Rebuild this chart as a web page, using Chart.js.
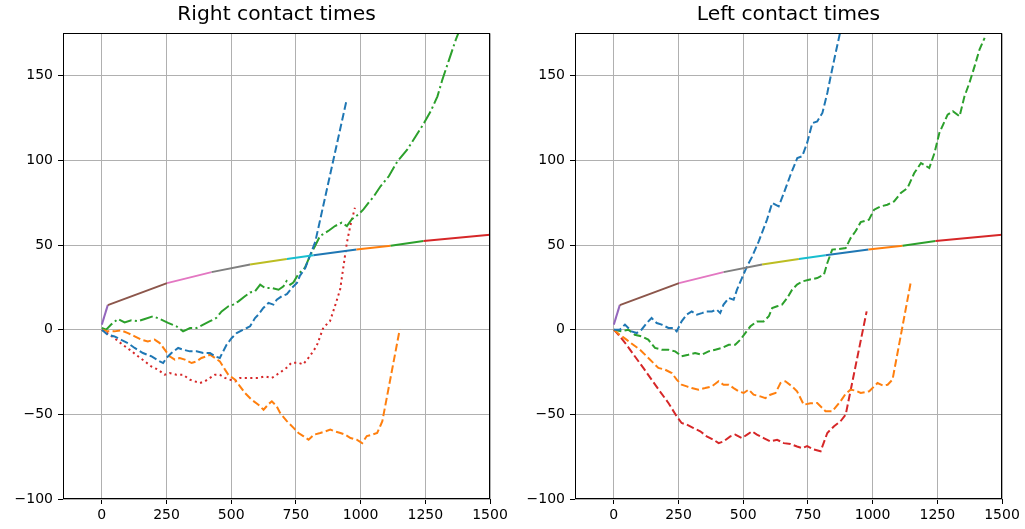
<!DOCTYPE html>
<html>
<head>
<meta charset="utf-8">
<script src="https://cdn.jsdelivr.net/npm/chart.js@4.4.1/dist/chart.umd.min.js"></script>
<style>
  body { margin: 0; background: #fff; }
  #wrap { position: relative; width: 1025px; height: 529px; overflow: hidden; background: #fff; }
  canvas { position: absolute; top: 0; }
</style>
</head>
<body>
<div id="wrap">
  <canvas id="rightContact" width="512" height="529" style="left:0"></canvas>
  <canvas id="leftContact" width="513" height="529" style="left:512px"></canvas>
</div>
<script>
// tick values
const xTicks = [0, 250, 500, 750, 1000, 1250, 1500];
const yTicks = [-100, -50, 0, 50, 100, 150];

// reference curve (same in both panels), one colour per segment
const curve = [[0,3],[23,14.5],[252,27.5],[424,34],[573,38.5],[715,41.7],[818,44],[984,47.3],[1116,49.6],[1243,52.4],[1500,56]];
const curveColors = ['#9467bd','#8c564b','#e377c2','#7f7f7f','#bcbd22','#17becf','#1f77b4','#ff7f0e','#2ca02c','#d62728'];

// "Right contact times" panel
const rcBlue = [[0,0],[23,-3],[49,-4],[75,-6],[101,-8],[127,-10.8],[159,-13.8],[191,-15.7],[224,-18.7],[237,-19.7],[250,-16.7],[269,-13.8],[295,-10.8],[314,-11.8],[340,-12.8],[366,-12.8],[392,-13.8],[418,-13.8],[437,-15.7],[456,-16.7],[469,-12.8],[482,-8.9],[502,-4.9],[521,-2],[546,0],[560,1],[573,2],[592,6.9],[605,8.9],[624,12.8],[644,15.8],[663,14.8],[676,17.7],[695,19.7],[715,21],[734,24.6],[754,27.6],[765,31.7],[786,36.4],[805,44],[825,52],[945,135]];
const rcOrange = [[0,0],[23,-1],[49,-1],[75,-0.4],[101,-2],[127,-3.9],[153,-5.9],[178,-6.9],[204,-5.9],[224,-7.9],[243,-11.8],[262,-15.7],[282,-17.7],[301,-16.7],[321,-17.7],[347,-19.7],[366,-18.7],[385,-16.7],[405,-15.7],[418,-14.8],[437,-16.7],[456,-18.7],[476,-23.6],[489,-26.6],[515,-29.5],[534,-33.5],[553,-37.4],[579,-41.4],[605,-44.3],[625,-47.3],[644,-44],[657,-42.3],[676,-45.3],[689,-49.2],[715,-54],[741,-58],[760,-61],[780,-63],[799,-65],[820,-62],[844,-61],[865,-60],[883,-59],[900,-60],[922,-61],[940,-62],[961,-64],[985,-65],[1006,-67],[1024,-62.8],[1045,-62],[1064,-61],[1076,-56.9],[1084,-54],[1151,0]];
const rcGreen = [[0,1],[17,0],[36,3],[62,6.3],[88,4.3],[114,5.5],[140,5],[166,6.3],[198,7.9],[224,6.3],[256,4],[288,2],[314,-1],[341,1],[366,1],[392,3],[418,5],[443,7],[463,10.8],[489,13.8],[508,14.8],[528,16.7],[553,19.7],[573,22],[592,22.6],[612,26.6],[631,24.6],[657,24.6],[683,23.6],[702,25.6],[714,28.7],[728,26.6],[740,27.8],[759,32.7],[785,36.6],[804,43.5],[824,49.4],[843,55.3],[875,58.3],[901,61.2],[927,63.2],[947,61.2],[966,65.2],[992,68.1],[1011,71],[1031,75],[1051,78.7],[1077,84.7],[1109,90.6],[1142,99.4],[1180,106.3],[1213,114.2],[1245,122],[1271,129],[1297,137.8],[1316,147.7],[1342,159.5],[1368,171.3],[1380,176]];
const rcRed = [[0,0],[30,-3],[56,-5.9],[81,-8.9],[107,-11.8],[140,-15.7],[166,-18.7],[191,-21.7],[217,-23.6],[243,-26.6],[262,-25.6],[288,-26.6],[314,-26.6],[340,-29.5],[359,-30.5],[379,-31.5],[398,-30.5],[418,-28.5],[437,-26.6],[456,-26.6],[476,-28.5],[495,-29.5],[515,-30.5],[534,-28.5],[553,-28.5],[579,-28.5],[605,-28.5],[631,-27.6],[657,-28.5],[676,-26.6],[695,-24.6],[714,-22.5],[733,-19.5],[759,-19.5],[778,-20.5],[804,-15.6],[830,-9.7],[856,1.2],[882,5.1],[901,14],[921,23.8],[934,37.6],[947,51.4],[960,61.2],[978,72]];

// "Left contact times" panel
const lcBlue = [[0,0],[23,0],[43,3],[69,-1],[88,-2],[107,0],[127,3.9],[146,6.9],[166,3.9],[185,3],[211,1],[230,1],[243,-1],[262,4.9],[282,8.9],[301,10.8],[321,8.9],[340,9.8],[359,10.8],[379,10.8],[398,11.8],[411,9.8],[424,14.8],[444,18.7],[463,17.7],[476,23.6],[495,30.5],[515,37.4],[534,43],[560,52.2],[592,65],[612,74.8],[637,72.8],[657,80.7],[683,91.5],[709,101.4],[728,102.4],[747,110.3],[767,122],[786,123],[806,128],[825,139.8],[838,149.6],[857,163.4],[874,175.2],[880,180]];
const lcOrange = [[0,0],[23,-3],[49,-5.9],[75,-8.9],[101,-11.8],[127,-15.7],[153,-19.7],[172,-22.6],[198,-23.6],[224,-25.6],[243,-29.5],[262,-32.5],[282,-33.5],[301,-34.5],[327,-35.4],[353,-34.5],[379,-33.5],[405,-30.5],[424,-32.5],[444,-32.5],[463,-34.5],[482,-36.4],[502,-37.4],[521,-35.4],[540,-38.4],[566,-39.4],[586,-40.4],[605,-38.4],[625,-37.4],[644,-31.5],[663,-30.5],[689,-33.5],[708,-36.4],[734,-44.3],[760,-43.5],[786,-43.3],[818,-48.2],[844,-48.2],[876,-42.3],[895,-38],[915,-35.4],[934,-36],[954,-37.4],[987,-36.4],[1019,-31.5],[1040,-33],[1058,-32.5],[1077,-29.5],[1148,28.5]];
const lcGreen = [[0,0],[30,-1],[56,0],[81,-3],[107,-3.9],[133,-5.9],[159,-10.8],[185,-11.8],[211,-11.8],[237,-12.8],[262,-15.7],[288,-14.8],[314,-13.8],[340,-14.8],[366,-12.8],[392,-11.8],[418,-10.8],[444,-8.9],[469,-8.9],[489,-5.9],[508,-2],[528,2],[553,4.9],[579,4.9],[599,7.9],[612,12.8],[631,13.8],[650,14.8],[670,18.7],[689,23.6],[708,26.6],[728,28.5],[754,29.5],[786,30.5],[812,32.5],[825,39.4],[844,47.3],[870,47.7],[896,48.2],[915,54.1],[934,58.1],[954,63.5],[986,65],[1006,70.9],[1031,72.8],[1057,73.8],[1083,75.8],[1109,80.7],[1135,83.7],[1161,92.5],[1187,98.4],[1219,95.5],[1239,104.3],[1258,116.2],[1290,127],[1310,129],[1336,126],[1355,137.8],[1374,145.7],[1394,155.5],[1413,165.4],[1433,172.3]];
const lcRed = [[0,0],[23,-3.9],[49,-8.9],[81,-15.7],[114,-22.6],[146,-29.5],[178,-36.4],[211,-43.3],[243,-51.2],[262,-55.1],[282,-56.1],[308,-58.1],[334,-60],[359,-63],[385,-65],[405,-67],[424,-66],[450,-63],[469,-62],[495,-64],[515,-62],[534,-60],[553,-62],[579,-64],[605,-66],[631,-65],[657,-67],[683,-67.5],[708,-69],[728,-70],[747,-68.8],[773,-70.8],[799,-71.8],[825,-61],[851,-57],[876,-54.1],[896,-50.2],[977,10.8]];

const DASHED = [7.7, 3.3];
const DASHDOT = [13.3, 3.3, 2.1, 3.3];
const DOTTED = [2.1, 3.4];
const FONT = 'DejaVu Sans';

const pts = arr => arr.map(p => ({ x: p[0], y: p[1] }));
const fmt = v => v < 0 ? '\u2212' + Math.abs(v) : String(v);

// matplotlib-style box around the axes
const boxPlugin = {
  id: 'box',
  afterDraw(chart) {
    const a = chart.chartArea, ctx = chart.ctx;
    ctx.save();
    ctx.strokeStyle = '#000';
    ctx.lineWidth = 1;
    ctx.strokeRect(Math.round(a.left) + 0.5, Math.round(a.top) + 0.5,
      Math.round(a.right - a.left) - 1, Math.round(a.bottom - a.top) - 1);
    ctx.restore();
  }
};

function makeChart(id, title, series, rightPad) {
  const datasets = [{
    data: pts(curve),
    borderColor: curveColors[0],
    segment: { borderColor: ctx => curveColors[ctx.p0DataIndex] }
  }].concat(series.map(s => ({ data: pts(s.data), borderColor: s.color, borderDash: s.dash })));
  datasets.forEach(d => {
    d.showLine = true; d.pointRadius = 0; d.borderWidth = 2;
    d.tension = 0; d.fill = false; d.borderCapStyle = 'butt';
  });

  return new Chart(document.getElementById(id), {
    type: 'scatter',
    data: { datasets },
    options: {
      responsive: false, animation: false, devicePixelRatio: 1,
      layout: { padding: { left: 0, right: rightPad, top: 0, bottom: 0 } },
      plugins: {
        legend: { display: false },
        tooltip: { enabled: false },
        title: {
          display: true, text: title, color: '#000', fullSize: false,
          font: { family: FONT, size: 20.3, weight: 'normal', lineHeight: 1.2 },
          padding: { top: 3, bottom: 6 }
        }
      },
      scales: {
        x: {
          type: 'linear', min: -150, max: 1500,
          afterBuildTicks: s => { s.ticks = xTicks.map(v => ({ value: v })); },
          afterFit: s => { s.height = 30; s.paddingLeft = 0; s.paddingRight = 0; },
          grid: { color: '#b0b0b0', lineWidth: 1, tickColor: '#000', tickLength: 5 },
          border: { display: false },
          ticks: { color: '#000', padding: 3, maxRotation: 0, autoSkip: false,
                   font: { family: FONT, size: 14 }, callback: fmt }
        },
        y: {
          type: 'linear', min: -100, max: 175,
          afterBuildTicks: s => { s.ticks = yTicks.map(v => ({ value: v })); },
          afterFit: s => { s.width = 63; s.paddingTop = 0; s.paddingBottom = 0; },
          grid: { color: '#b0b0b0', lineWidth: 1, tickColor: '#000', tickLength: 5 },
          border: { display: false },
          ticks: { color: '#000', padding: 5, autoSkip: false,
                   font: { family: FONT, size: 14 }, callback: fmt }
        }
      }
    },
    plugins: [boxPlugin]
  });
}

makeChart('rightContact', 'Right contact times', [
  { data: rcBlue, color: '#1f77b4', dash: DASHED },
  { data: rcOrange, color: '#ff7f0e', dash: DASHED },
  { data: rcGreen, color: '#2ca02c', dash: DASHDOT },
  { data: rcRed, color: '#d62728', dash: DOTTED }
], 22);

makeChart('leftContact', 'Left contact times', [
  { data: lcBlue, color: '#1f77b4', dash: DASHED },
  { data: lcOrange, color: '#ff7f0e', dash: DASHED },
  { data: lcGreen, color: '#2ca02c', dash: DASHED },
  { data: lcRed, color: '#d62728', dash: DASHED }
], 23);
</script>
</body>
</html>
